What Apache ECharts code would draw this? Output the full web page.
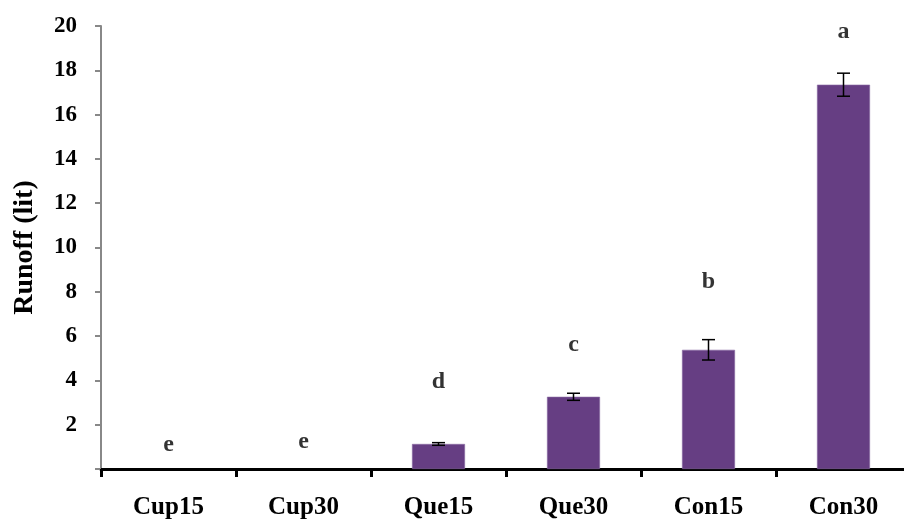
<!DOCTYPE html>
<html>
<head>
<meta charset="utf-8">
<script src="https://cdn.jsdelivr.net/npm/echarts@6/dist/echarts.min.js"></script>
<style>
  html, body { margin: 0; padding: 0; background: #fff; }
  #chart { width: 904px; height: 520px; }
</style>
</head>
<body>
<div id="chart"></div>
<script>
// Runoff volume per treatment, with standard errors and significance letters
const categories = ['Cup15', 'Cup30', 'Que15', 'Que30', 'Con15', 'Con30'];
const runoff = [0, 0, 1.13, 3.26, 5.38, 17.35];
const stdErr = [0, 0, 0.06, 0.16, 0.46, 0.52];
const letters = ['e', 'e', 'd', 'c', 'b', 'a'];
// heights (in litres) at which the significance letters sit
const letterHeight = [1.1, 1.22, 3.94, 5.6, 8.45, 19.72];
const yTicks = [0, 2, 4, 6, 8, 10, 12, 14, 16, 18, 20];

const FONT = '"Liberation Serif", "Times New Roman", serif';
const chart = echarts.init(document.getElementById('chart'));

chart.setOption({
  animation: false,
  grid: { left: 101, top: 26, bottom: 51, width: 810, outerBoundsMode: 'none', containLabel: false },
  xAxis: {
    type: 'category',
    data: categories,
    boundaryGap: true,
    axisLine: { lineStyle: { color: '#000', width: 3 } },
    axisTick: { show: true, length: 8, lineStyle: { color: '#000', width: 3 } },
    axisLabel: { color: '#000', fontFamily: FONT, fontWeight: 'bold', fontSize: 25, margin: 26 },
    splitLine: { show: false }
  },
  yAxis: {
    type: 'value',
    min: yTicks[0],
    max: yTicks[yTicks.length - 1],
    interval: 2,
    name: 'Runoff (lit)',
    nameLocation: 'middle',
    nameGap: 62,
    nameTextStyle: { color: '#000', fontFamily: FONT, fontWeight: 'bold', fontSize: 28 },
    axisLine: { show: true, lineStyle: { color: '#888', width: 2 } },
    axisTick: { show: true, length: 6, lineStyle: { color: '#888', width: 2 } },
    axisLabel: {
      color: '#000', fontFamily: FONT, fontWeight: 'bold', fontSize: 23, margin: 24,
      formatter: v => (v === 0 ? '' : String(v))
    },
    splitLine: { show: false }
  },
  series: [
    {
      type: 'bar',
      data: runoff.map(v => ({
        value: v,
        itemStyle: { borderWidth: v > 0 ? 0.6 : 0 }
      })),
      barWidth: 53,
      itemStyle: { color: '#663e83', borderColor: '#8a6aa3' },
      z: 2
    },
    {
      // error bars
      type: 'custom',
      data: runoff.map((v, i) => [i, v, stdErr[i]]),
      renderItem: (params, api) => {
        const i = api.value(0), v = api.value(1), e = api.value(2);
        if (e <= 0) return null;
        const top = api.coord([i, v + e]);
        const bot = api.coord([i, v - e]);
        const half = 6.5;
        const style = { stroke: '#000', lineWidth: 1.5 };
        return {
          type: 'group',
          children: [
            { type: 'line', shape: { x1: top[0], y1: top[1], x2: bot[0], y2: bot[1] }, style },
            { type: 'line', shape: { x1: top[0] - half, y1: top[1], x2: top[0] + half, y2: top[1] }, style },
            { type: 'line', shape: { x1: bot[0] - half, y1: bot[1], x2: bot[0] + half, y2: bot[1] }, style }
          ]
        };
      },
      z: 3
    },
    {
      // significance letters
      type: 'scatter',
      data: letterHeight.map((h, i) => [i, h]),
      symbolSize: 0,
      label: {
        show: true,
        position: 'inside',
        formatter: p => letters[p.dataIndex],
        color: '#000', fontFamily: FONT, fontWeight: 'bold', fontSize: 24
      },
      z: 4
    }
  ]
});
</script>
</body>
</html>
